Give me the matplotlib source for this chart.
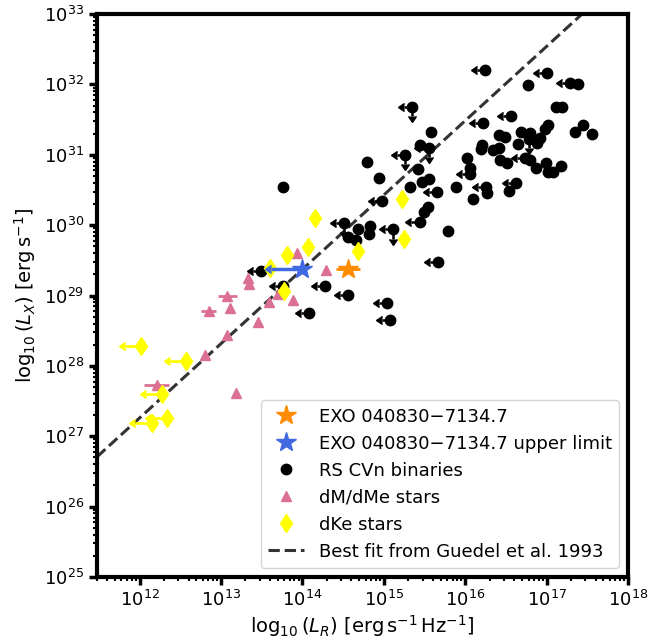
import numpy as np
import matplotlib
matplotlib.use("Agg")
import matplotlib.pyplot as plt

# RS CVn binaries: log10 L_R, log10 L_X, upper limit flags (radio, X-ray)
rs_logLR = [16.24, 17.01, 17.29, 17.39, 16.77, 17.12, 17.19, 15.35, 16.56, 16.22,
            17.02, 16.98, 17.45, 17.35, 17.56, 15.58, 15.44, 15.55, 15.26, 14.79,
            15.42, 14.94, 15.55, 15.47, 15.32, 15.65, 14.98, 15.49, 15.54, 15.44,
            13.76, 14.51, 14.83, 14.82, 14.68, 14.56, 14.66, 15.11, 15.79, 15.67,
            13.49, 13.76, 14.28, 14.56, 14.08, 15.04, 15.08, 16.21, 16.19, 16.34,
            16.42, 16.42, 16.49, 16.65, 16.69, 16.80, 16.78, 16.92, 16.88, 16.02,
            16.06, 16.06, 16.43, 16.51, 16.74, 16.80, 16.87, 16.99, 17.02, 17.08,
            17.18, 15.89, 16.10, 16.26, 16.27, 16.62, 16.54]
rs_logLX = [32.20, 32.16, 32.02, 32.01, 31.99, 31.68, 31.68, 31.68, 31.55, 31.45,
            31.42, 31.37, 31.42, 31.32, 31.29, 31.32, 31.14, 31.10, 31.00, 30.90,
            30.80, 30.67, 30.66, 30.61, 30.54, 30.47, 30.34, 30.19, 30.26, 30.04,
            30.54, 30.03, 29.99, 29.87, 29.94, 29.83, 29.79, 29.94, 29.92, 29.48,
            29.35, 29.13, 29.13, 29.01, 28.75, 28.89, 28.65, 31.14, 31.08, 31.07,
            31.10, 31.28, 31.25, 31.15, 31.32, 31.31, 31.22, 31.24, 31.17, 30.95,
            30.81, 30.73, 30.93, 30.88, 30.95, 30.93, 30.81, 30.88, 30.75, 30.75,
            30.84, 30.54, 30.37, 30.54, 30.46, 30.60, 30.48]
rs_radio_ul = [1, 1, 1, 0, 0, 0, 0, 1, 1, 1,
               0, 0, 0, 0, 0, 0, 0, 1, 1, 0,
               0, 0, 0, 0, 0, 1, 1, 0, 0, 1,
               0, 1, 0, 0, 0, 0, 0, 1, 0, 1,
               1, 1, 1, 1, 1, 1, 1, 0, 0, 0,
               0, 0, 0, 0, 0, 0, 0, 0, 0, 0,
               0, 1, 0, 0, 1, 0, 0, 0, 0, 0,
               0, 0, 0, 1, 0, 1, 0]
rs_xray_ul = [0, 0, 0, 0, 0, 0, 0, 1, 0, 0,
              0, 0, 0, 0, 0, 0, 0, 1, 1, 0,
              0, 0, 0, 0, 0, 0, 0, 0, 0, 0,
              0, 1, 0, 0, 0, 0, 0, 1, 0, 0,
              0, 0, 0, 0, 0, 0, 0, 0, 0, 0,
              0, 0, 0, 0, 0, 0, 1, 0, 0, 0,
              0, 0, 0, 0, 0, 0, 0, 0, 0, 0,
              0, 0, 0, 0, 0, 0, 0]

# dM/dMe stars (xerr in dex)
dm_logLR = [12.21, 13.18, 12.80, 12.85, 13.08, 13.11, 13.08, 13.46, 13.33, 13.34,
            13.59, 13.70, 13.89, 13.94, 14.29]
dm_logLX = [27.73, 27.61, 28.15, 28.78, 28.99, 28.82, 28.44, 28.62, 29.25, 29.16,
            28.91, 29.02, 28.94, 29.60, 29.36]
dm_dex = [0.15, 0, 0, 0.09, 0.12, 0, 0, 0, 0, 0, 0, 0, 0, 0, 0]

# dKe stars
dk_logLR = [12.02, 12.57, 12.28, 12.34, 12.15, 13.81, 14.16, 14.07, 14.68, 15.25,
            15.23, 13.77, 13.60]
dk_logLX = [28.28, 28.07, 27.60, 27.26, 27.19, 29.58, 30.10, 29.69, 29.63, 29.80,
            30.37, 29.06, 29.39]
dk_radio_ul = [1, 1, 1, 1, 1, 0, 0, 0, 0, 0, 0, 0, 0]

# EXO 040830-7134.7
exo_logLR, exo_logLX, exo_dex = 14.56, 29.38, 0.15
exo_ul_logLR, exo_ul_logLX = 14.00, 29.37

# Guedel et al. 1993 fit: log LX = fit_b + fit_m * (log LR - 12)
fit_m, fit_b = 1.056, 27.26


def down(v, d):
    return v * (1 - 10.0 ** (-d))


def limits(ax, x, y, dex, color, lw, vertical=False):
    # upper-limit arrows pointing left (radio) or down (X-ray)
    if len(x) == 0:
        return
    if vertical:
        eb = ax.errorbar(x, y, yerr=down(y, dex), uplims=True, fmt='none',
                         ecolor=color, elinewidth=lw, capsize=3, zorder=3)
    else:
        eb = ax.errorbar(x, y, xerr=down(x, dex), xuplims=True, fmt='none',
                         ecolor=color, elinewidth=lw, capsize=3, zorder=3)
    for c in eb[1]:
        c.set_color(color)
        c.set_markerfacecolor(color)
        c.set_markeredgecolor(color)


fig = plt.figure(figsize=(6.68, 6.44), dpi=100)
ax = fig.add_axes([0.1452, 0.104, 0.7949, 0.8742])
ax.set_xscale('log')
ax.set_yscale('log')

# RS CVn
LR = 10.0 ** np.array(rs_logLR)
LX = 10.0 ** np.array(rs_logLX)
xu = np.array(rs_radio_ul, bool)
yu = np.array(rs_xray_ul, bool)
limits(ax, LR[xu], LX[xu], 0.1, 'k', 1.8)
limits(ax, LR[yu], LX[yu], 0.13, 'k', 1.8, vertical=True)
ax.plot(LR, LX, 'o', color='k', ms=7.5, ls='none', label='RS CVn binaries', zorder=3)

# dM/dMe
mR = 10.0 ** np.array(dm_logLR)
mX = 10.0 ** np.array(dm_logLX)
md = np.array(dm_dex)
me = md > 0
ax.errorbar(mR[me], mX[me], xerr=[down(mR[me], md[me]), mR[me] * (10 ** md[me] - 1)],
            fmt='none', ecolor='palevioletred', elinewidth=2, zorder=3)
ax.plot(mR, mX, '^', color='palevioletred', ms=7.5, ls='none', label='dM/dMe stars', zorder=3)

# dKe
kR = 10.0 ** np.array(dk_logLR)
kX = 10.0 ** np.array(dk_logLX)
ku = np.array(dk_radio_ul, bool)
limits(ax, kR[ku], kX[ku], 0.2, 'yellow', 2)
ax.plot(kR, kX, 'd', color='yellow', ms=9.5, ls='none', label='dKe stars', zorder=3)

# EXO
eR, eX = 10.0 ** exo_logLR, 10.0 ** exo_logLX
ax.errorbar([eR], [eX], xerr=[[down(eR, exo_dex)], [eR * (10 ** exo_dex - 1)]],
            fmt='none', ecolor='darkorange', elinewidth=2, zorder=4)
ax.plot([eR], [eX], '*', color='darkorange', ms=15, ls='none',
        label='EXO 040830\u22127134.7', zorder=5)
uR, uX = 10.0 ** exo_ul_logLR, 10.0 ** exo_ul_logLX
limits(ax, np.array([uR]), np.array([uX]), 0.39, 'royalblue', 2.5)
ax.plot([uR], [uX], '*', color='royalblue', ms=15, ls='none',
        label='EXO 040830\u22127134.7 upper limit', zorder=5)

# fit line
xf = np.array([3e11, 1e18])
yf = 10.0 ** (fit_b + fit_m * (np.log10(xf) - 12))
ax.plot(xf, yf, '--', color='#333333', lw=2.2, label='Best fit from Guedel et al. 1993', zorder=2)

ax.set_xlim(3e11, 1e18)
ax.set_ylim(1e25, 1e33)
ax.set_xlabel(r'$\log_{10}(L_R)\ [\mathrm{erg\,s^{-1}\,Hz^{-1}}]$', fontsize=14, labelpad=2)
ax.set_ylabel(r'$\log_{10}(L_X)\ [\mathrm{erg\,s^{-1}}]$', fontsize=14)
ax.tick_params(which='major', labelsize=13, width=2.5, length=6)
ax.tick_params(which='minor', width=1.5, length=3)
for s in ax.spines.values():
    s.set_linewidth(3)

h, l = ax.get_legend_handles_labels()
order = [3, 4, 0, 1, 2, 5]
ax.legend([h[i] for i in order], [l[i] for i in order], loc='lower right', fontsize=13)

fig.savefig('out.png', dpi=100)
